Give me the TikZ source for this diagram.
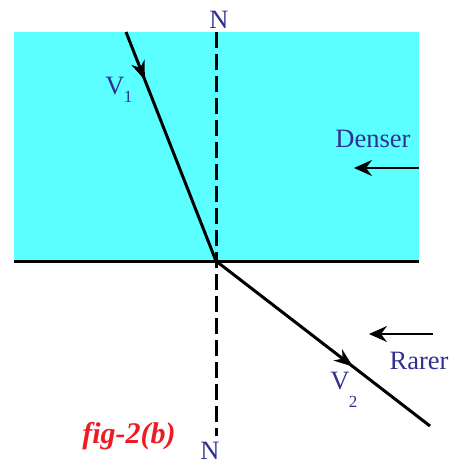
\documentclass[tikz,border=0pt]{standalone}
\usepackage{fontspec}
\setmainfont{Liberation Serif}
\usetikzlibrary{arrows.meta,decorations.markings}
\definecolor{medium}{HTML}{5BFFFF}
\definecolor{lbl}{HTML}{2E3192}
\definecolor{figred}{HTML}{ED1C24}
\tikzset{
  ray/.style={line width=3pt},
  midarrow/.style={postaction={decorate},decoration={markings,
    mark=at position #1 with {\arrow{Stealth[length=19pt,width=14pt,inset=6pt]}}}},
  lab/.style={text=lbl,font=\fontsize{26.5}{26.5}\selectfont,inner sep=0pt},
  sub/.style={text=lbl,font=\fontsize{17}{17}\selectfont,inner sep=0pt},
  normal/.style={line width=3.5pt,dash pattern=on 16pt off 6pt},
  dirarrow/.style={line width=2pt,-{Stealth[length=18pt,width=16pt,inset=6pt]}}
}
\begin{document}
\begin{tikzpicture}[x=1pt,y=-1pt]
\useasboundingbox (0,0) rectangle (449,465);
\fill[medium] (14,32) rectangle (419,261);
\coordinate (nt) at (216.5,32);
\coordinate (nb) at (216.5,436);
\coordinate (o) at (216,261);
\coordinate (a) at (126,32);
\coordinate (b) at (430,426);
\coordinate (sl) at (14,261);
\coordinate (sr) at (419,261);
\draw[normal] (nt) -- (nb);
\draw[line width=3pt] (sl) -- (sr);
\draw[ray,midarrow=0.21] (a) -- (o);
\draw[ray,midarrow=0.64] (o) -- (b);
\coordinate (d1) at (419,168);
\coordinate (d2) at (354,168);
\draw[dirarrow] (d1) -- (d2);
\coordinate (r1) at (433,334);
\coordinate (r2) at (369,334);
\draw[dirarrow] (r1) -- (r2);
\node[lab] (ntop) at (219,20) {N};
\node[lab] (nbot) at (210,451) {N};
\node[lab] (v1) at (115,86) {V};
\node[sub] (v1s) at (128,97) {1};
\node[lab] (v2) at (340,381) {V};
\node[sub] (v2s) at (353,402) {2};
\node[lab] (den) at (373,139) {Denser};
\node[lab] (rar) at (419,361) {Rarer};
\node[text=figred,font=\fontsize{30}{30}\selectfont\bfseries\itshape,inner sep=0pt] (fig) at (129,436) {fig-2(b)};
\end{tikzpicture}
\end{document}
